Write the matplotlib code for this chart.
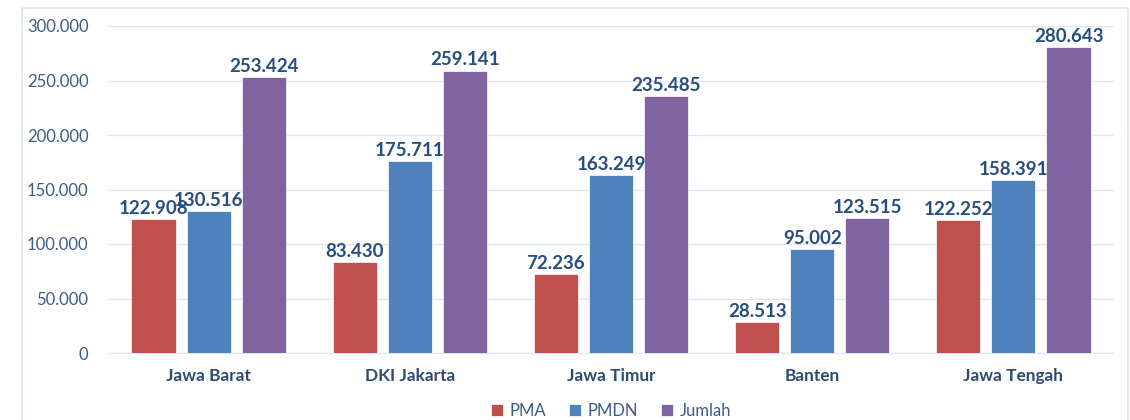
import matplotlib
matplotlib.use("Agg")
import matplotlib.pyplot as plt
import numpy as np
from matplotlib.patches import Rectangle

categories = ["Jawa Barat", "DKI Jakarta", "Jawa Timur", "Banten", "Jawa Tengah"]
pma = [122908, 83430, 72236, 28513, 122252]
pmdn = [130516, 175711, 163249, 95002, 158391]
jumlah = [253424, 259141, 235485, 123515, 280643]
series_names = ["PMA", "PMDN", "Jumlah"]
colors = ["#C0504D", "#4F81BD", "#8064A2"]
yticks = [0, 50000, 100000, 150000, 200000, 250000, 300000]

plt.rcParams['font.family'] = ['Lato', 'DejaVu Sans']

fig = plt.figure(figsize=(11.3, 4.2), dpi=100)
ax = fig.add_axes([108/1130, 1-353/420, (1114-108)/1130, (353-26)/420])

fig.patches.append(Rectangle((22/1130, -0.1), (1128-22)/1130, 1.1 - 8/420,
                             transform=fig.transFigure, fill=False,
                             edgecolor="#DCE6F2", linewidth=1.2))

x = np.arange(len(categories))
w = 0.219
step = 0.274
label_color = "#264E7E"
tick_color = "#3E5C86"
for i, (vals, name, c) in enumerate(zip([pma, pmdn, jumlah], series_names, colors)):
    pos = x + (i - 1) * step
    ax.bar(pos, vals, width=w, color=c, label=name, zorder=3,
           edgecolor="white", linewidth=0.5)
    for xp, v in zip(pos, vals):
        ax.text(xp, v + 2000, f"{v:,}".replace(",", "."), ha="center", va="bottom",
                fontsize=13.5, fontweight="bold", color=label_color, zorder=4)

ax.set_xlim(-0.5, len(categories) - 0.5)
ax.set_ylim(0, 300000)
ax.set_yticks(yticks)
ax.set_yticklabels([f"{v:,}".replace(",", ".") for v in yticks], fontsize=12, color=tick_color)
ax.set_xticks(x)
ax.set_xticklabels(categories, fontsize=12.4, fontweight="bold", color="#2E4A70")
ax.tick_params(axis="both", length=0)
ax.tick_params(axis="x", pad=11)
ax.tick_params(axis="y", pad=14)
ax.grid(axis="y", color="#DDE6F2", linewidth=1, zorder=0)
for s in ["top", "right", "left"]:
    ax.spines[s].set_visible(False)
ax.spines["bottom"].set_color("#DDE6F2")

leg = ax.legend(loc="center", bbox_to_anchor=(0.5, (353 - 411) / 327), ncol=3, frameon=False,
                fontsize=12, handlelength=0.7, handleheight=0.7, columnspacing=1.4,
                handletextpad=0.4, borderpad=0)
for t in leg.get_texts():
    t.set_color(tick_color)

fig.savefig("out.png", dpi=100)
